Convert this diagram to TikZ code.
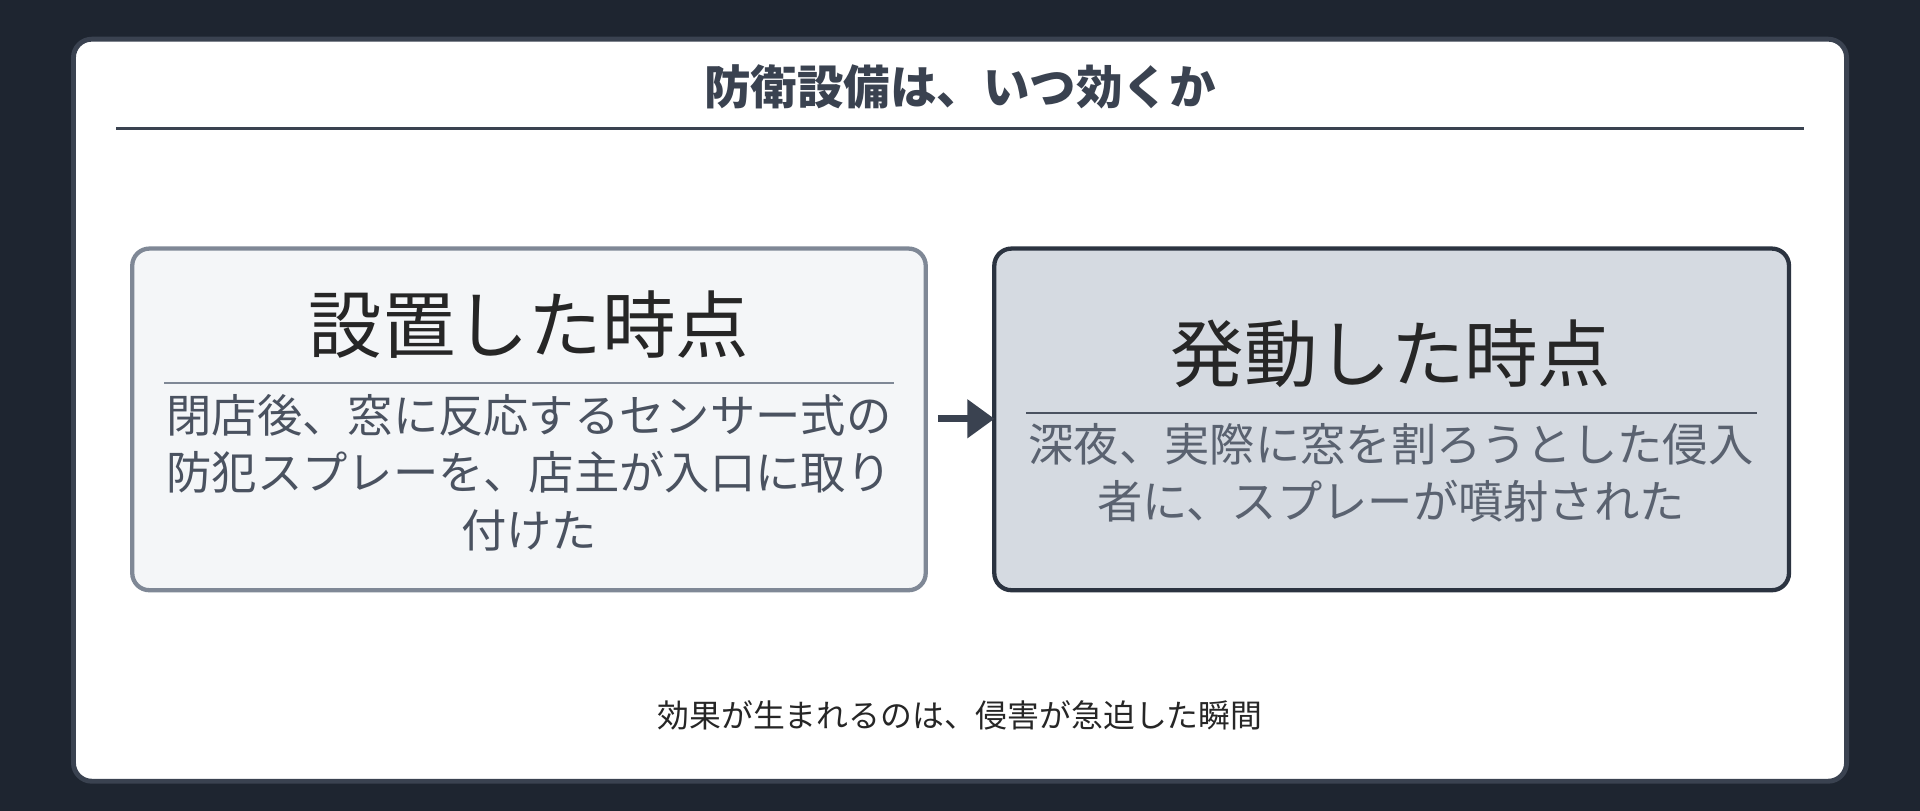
\documentclass[tikz,border=0pt]{standalone}
\usepackage{fontspec}
\newfontfamily\jp{Noto Sans CJK JP}
\definecolor{bg}{HTML}{1E2530}
\definecolor{frame}{HTML}{3A4250}
\definecolor{lfill}{HTML}{F4F6F8}
\definecolor{lborder}{HTML}{7F8896}
\definecolor{rfill}{HTML}{D5DAE1}
\definecolor{rborder}{HTML}{2B3340}
\definecolor{ltext}{HTML}{4A5260}
\definecolor{rtext}{HTML}{5A6270}
\begin{document}
\begin{tikzpicture}[x=1pt,y=-1pt,
 box/.style={rounded corners=14pt,line width=3.5pt},
 head/.style={font=\jp\fontsize{60}{66}\selectfont,text=black!85,anchor=center},
 body/.style={font=\jp\fontsize{37}{47}\selectfont,align=center,anchor=center},
 sep/.style={line width=1.5pt}]
\useasboundingbox (0,0) rectangle (1568,662);
\fill[bg] (0,0) rectangle (1568,662);
\draw[fill=white,draw=frame,line width=4pt,rounded corners=15pt] (60,32) rectangle (1508,638);
\node[font=\jp\bfseries\fontsize{38}{44}\selectfont,text=frame] (title) at (784,71) {防衛設備は、いつ効くか};
\coordinate (t1) at (95,105); \coordinate (t2) at (1473,105);
\draw[line width=2pt,frame] (t1) -- (t2);
% left
\draw[box,fill=lfill,draw=lborder] (108,203) rectangle (756,482);
\node[head] (lh) at (432,265) {設置した時点};
\coordinate (l1) at (134,313); \coordinate (l2) at (730,313);
\draw[sep,draw=lborder] (l1) -- (l2);
\node[body,text=ltext] (lb) at (432,386) {閉店後、窓に反応するセンサー式の\\防犯スプレーを、店主が入口に取り\\付けた};
% right
\draw[box,fill=rfill,draw=rborder] (812,203) rectangle (1461,482);
\node[head] (rh) at (1136,289) {発動した時点};
\coordinate (r1) at (838,337); \coordinate (r2) at (1435,337);
\draw[sep,draw=ltext] (r1) -- (r2);
\node[body,text=rtext] (rb) at (1136,386) {深夜、実際に窓を割ろうとした侵入\\者に、スプレーが噴射された};
% arrow
\coordinate (a1) at (766,342); \coordinate (a2) at (794,342);
\draw[frame,line width=6pt] (a1) -- (a2);
\fill[frame] (812,342) -- (790,326) -- (790,358) -- cycle;
\node[font=\jp\fontsize{26}{30}\selectfont,text=black!85] (cap) at (784,584) {効果が生まれるのは、侵害が急迫した瞬間};
\end{tikzpicture}
\end{document}
